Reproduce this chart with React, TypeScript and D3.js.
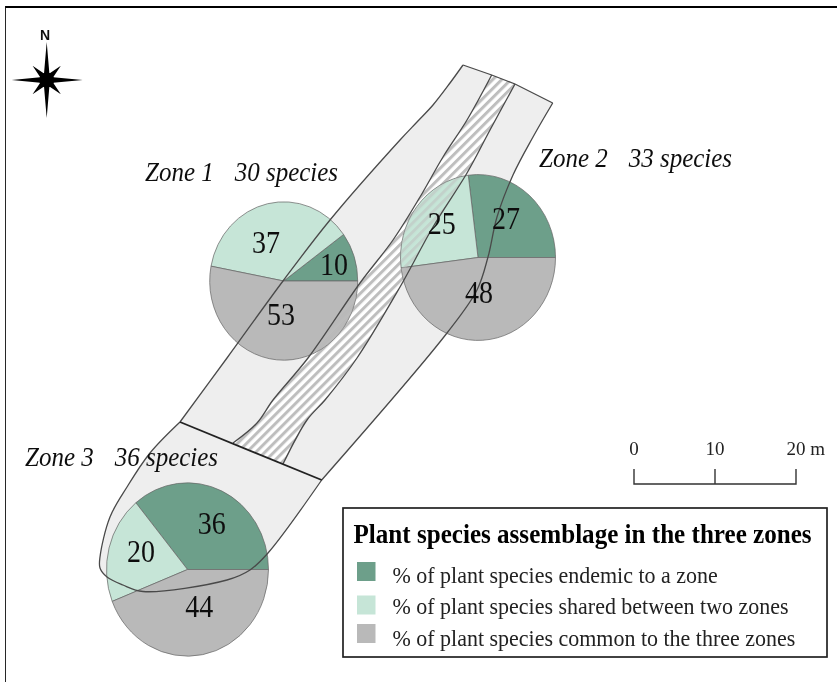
import React from "react";
import * as d3 from "d3";

const W = 837, H = 682;
type P = [number, number];

const legendLabels = [
  "% of plant species endemic to a zone",
  "% of plant species shared between two zones",
  "% of plant species common to the three zones",
];
const legendTitle = "Plant species assemblage in the three zones";
const zoneNames = ["Zone 1", "Zone 2", "Zone 3"];
const zoneSpecies = ["30 species", "33 species", "36 species"];
const zone1Values = [10, 37, 53];
const zone2Values = [27, 25, 48];
const zone3Values = [36, 20, 44];
const scaleTicks = [0, 10, 20];
const sliceColors = ["#6d9f8a", "#c6e5d7", "#b9b9b9"];

// Site outline (map coordinates)
const outerLeft: P[] = [[463, 65], [450, 83], [433, 105], [417, 122], [400, 140], [330, 220], [283, 281], [227, 358], [180, 422]];
const zone3Curve: P[] = [[180, 422], [150, 453], [127, 487], [110, 517], [100, 557], [100, 568], [107, 577], [123, 585], [143, 591.5], [227, 580], [250, 570], [268, 553], [321.7, 480]];
const divider: P[] = [[180, 422], [321.7, 480]];
const outerRight: P[] = [[552.7, 103], [533, 137], [513, 175], [497, 217], [488, 257], [477, 290], [447, 333], [321.7, 480]];
const topEdge: P[] = [[463, 65], [491.7, 75], [515, 84], [552.7, 103]];
const stripLeft: P[] = [[491.7, 75], [467, 120], [443, 157], [420, 197], [393, 240], [360, 283], [308, 358], [273, 400], [257, 423], [233, 443]];
const stripRight: P[] = [[515, 84], [490, 130], [467, 173], [433, 227], [400, 287], [357, 358], [325, 400], [307, 420], [283, 464]];

const curve = d3.line<P>().x(d => d[0]).y(d => d[1]).curve(d3.curveCatmullRom.alpha(0.5));
const straight = d3.line<P>().x(d => d[0]).y(d => d[1]);

const sitePath = [
  ...outerLeft,
  ...zone3Curve.slice(1),
  ...[...outerRight].reverse().slice(1),
  ...[...topEdge].reverse().slice(1),
] as P[];
const stripPath = [...stripLeft, ...[...stripRight].reverse(), [491.7, 75]] as P[];

const pieGen = d3.pie<number>().sort(null).startAngle(Math.PI / 2).endAngle(Math.PI / 2 - 2 * Math.PI);

const pieStretch = 1.07;
const pies = [
  { cx: 283.7, cy: 281, r: 74, values: zone1Values, labels: [[334, 275], [266, 253], [281, 325]] as P[] },
  { cx: 478, cy: 257.5, r: 77.5, values: zone2Values, labels: [[506, 229], [441.7, 234], [479, 302.7]] as P[] },
  { cx: 187.5, cy: 569.5, r: 81, values: zone3Values, labels: [[211.7, 534], [141, 562.3], [199.3, 616.7]] as P[] },
];
const zoneLabelPos: P[] = [[145, 181], [539, 167], [25, 465.5]];

const serif = "'Liberation Serif', 'Times New Roman', serif";

function Star() {
  const pts: string[] = [];
  const arms: [number, number][] = [[0, 38], [45, 20], [90, 36], [135, 20], [180, 38], [225, 20], [270, 35], [315, 20]];
  arms.forEach(([a, len]) => {
    const rad = (a * Math.PI) / 180;
    const half = Math.PI / 8;
    const inner = 7;
    pts.push(`${Math.sin(rad - half) * inner},${-Math.cos(rad - half) * inner}`);
    pts.push(`${Math.sin(rad) * len},${-Math.cos(rad) * len}`);
  });
  return (
    <g transform="translate(46.7,80)">
      <polygon points={pts.join(" ")} fill="#000" />
      <circle r={7.5} fill="#000" />
    </g>
  );
}

export default function App() {
  const xScale = d3.scaleLinear().domain([0, 20]).range([634, 796]);
  return (
    <svg width={W} height={H} style={{ position: "absolute", left: 0, top: 0, display: "block", background: "#fff" }}>
      <defs>
        <pattern id="hatch" width={6.4} height={6.4} patternUnits="userSpaceOnUse" patternTransform="rotate(45)">
          <rect x={0} y={0} width={3} height={6.4} fill="#bebebe" />
        </pattern>
        <filter id="soft" x="0" y="0" width="100%" height="100%"><feGaussianBlur stdDeviation={0.4} /></filter>
        <clipPath id="pieClip">
          {pies.map((p, i) => (
            <ellipse key={i} cx={p.cx} cy={p.cy} rx={p.r} ry={p.r * pieStretch} />
          ))}
        </clipPath>
      </defs>

      <g filter="url(#soft)">
        <line x1={5} y1={7} x2={W} y2={7} stroke="#000" strokeWidth={2.2} />
        <line x1={5} y1={6} x2={5} y2={H} stroke="#111" strokeWidth={1.8} />

        <path d={straight(sitePath) as string} fill="#eeeeee" />
        <path d={straight(stripPath) as string} fill="#fff" />
        <path d={straight(stripPath) as string} fill="url(#hatch)" />

        {pies.map((p, i) => {
          const arcs = pieGen(p.values);
          const arc = d3.arc<d3.PieArcDatum<number>>().innerRadius(0).outerRadius(p.r);
          return (
            <g key={i} transform={`translate(${p.cx},${p.cy}) scale(1,${pieStretch})`}>
              {arcs.map((a, j) => (
                <path key={j} d={arc(a) as string} fill={sliceColors[j]} stroke="#666" strokeWidth={0.7} />
              ))}
            </g>
          );
        })}

        <g clipPath="url(#pieClip)">
          <path d={straight(stripPath) as string} fill="url(#hatch)" opacity={0.5} style={{ mixBlendMode: "multiply" }} />
        </g>

        <g fill="none" stroke="#4a4a4a" strokeWidth={1.3}>
          <path d={curve(outerLeft) as string} />
          <path d={curve(zone3Curve) as string} />
          <path d={curve(outerRight) as string} />
          <path d={straight(topEdge) as string} />
          <path d={curve(stripLeft) as string} />
          <path d={curve(stripRight) as string} />
          <path d={straight(divider) as string} stroke="#222" strokeWidth={1.8} />
        </g>

        {pies.map((p, i) =>
          p.values.map((v, j) => (
            <text key={`${i}-${j}`} transform={`translate(${p.labels[j][0]},${p.labels[j][1]}) scale(1,1.14)`} textAnchor="middle" fontFamily={serif} fontSize={28} fill="#111">
              {v}
            </text>
          ))
        )}

        {zoneNames.map((z, i) => (
          <text key={z} transform={`translate(${zoneLabelPos[i][0]},${zoneLabelPos[i][1]}) scale(1,1.08)`} fontFamily={serif} fontStyle="italic" fontSize={25} fill="#111">
            <tspan>{z}</tspan>
            <tspan dx={21}>{zoneSpecies[i]}</tspan>
          </text>
        ))}

        <text x={45} y={40} textAnchor="middle" fontFamily="'Liberation Sans', Arial, sans-serif" fontWeight="bold" fontSize={14} fill="#111">N</text>
        <Star />

        <path
          d={`M${xScale(0)},469V484H${xScale(20)}V469M${xScale(10)},469V484`}
          fill="none" stroke="#333" strokeWidth={1.4}
        />
        {scaleTicks.map((t, i) => (
          <text key={t} x={i === 2 ? xScale(t) - 9.5 : xScale(t)} y={455} textAnchor={i === 2 ? "start" : "middle"} fontFamily={serif} fontSize={19} fill="#222">
            {i === 2 ? `${t} m` : t}
          </text>
        ))}

        <rect x={343} y={508} width={484} height={149} fill="#fff" stroke="#222" strokeWidth={1.7} />
        <text transform="translate(353.5,543) scale(1,1.07)" fontFamily={serif} fontWeight="bold" fontSize={25.1} fill="#000">{legendTitle}</text>
        {legendLabels.map((l, i) => (
          <g key={l}>
            <rect x={357} y={[562, 595.5, 624][i]} width={18.5} height={19} fill={sliceColors[i]} />
            <text transform={`translate(392.5,${[583, 614, 646][i]}) scale(1,1.08)`} fontFamily={serif} fontSize={22} fill="#222">{l}</text>
          </g>
        ))}
      </g>
    </svg>
  );
}
